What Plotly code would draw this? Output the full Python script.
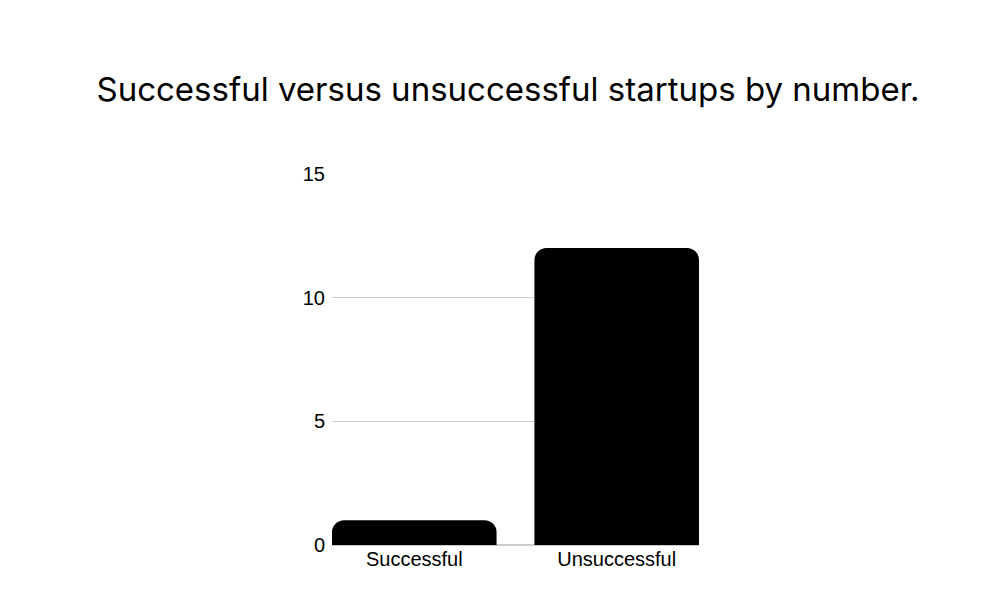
import plotly.graph_objects as go

categories = ["Successful", "Unsuccessful"]
values = [1, 12]
y_ticks = [0, 5, 10, 15]

fig = go.Figure(go.Bar(
    x=categories, y=values, width=0.813,
    marker=dict(color="black", cornerradius=12, line=dict(width=0)),
))
fig.update_layout(
    width=1000, height=600,
    margin=dict(l=324, r=309, t=165, b=63),
    paper_bgcolor="white", plot_bgcolor="white",
    showlegend=False,
    title=dict(text="Successful versus unsuccessful startups by number.",
               x=0.5, xanchor="center", y=0.864, yanchor="middle",
               font=dict(family="Inter", size=33, color="black")),
    font=dict(family="Liberation Sans", size=20, color="black"),
)
fig.update_xaxes(range=[-0.4065, 1.4065], showgrid=False, showline=False,
                 ticks="", tickfont=dict(size=20))
fig.update_yaxes(range=[0, 15.03], tickvals=y_ticks, showgrid=True,
                 gridcolor="#cccccc", gridwidth=1, zeroline=True,
                 zerolinecolor="#cccccc", ticks="", ticklabelstandoff=6,
                 tickfont=dict(size=20))
fig.write_html("out.html")
